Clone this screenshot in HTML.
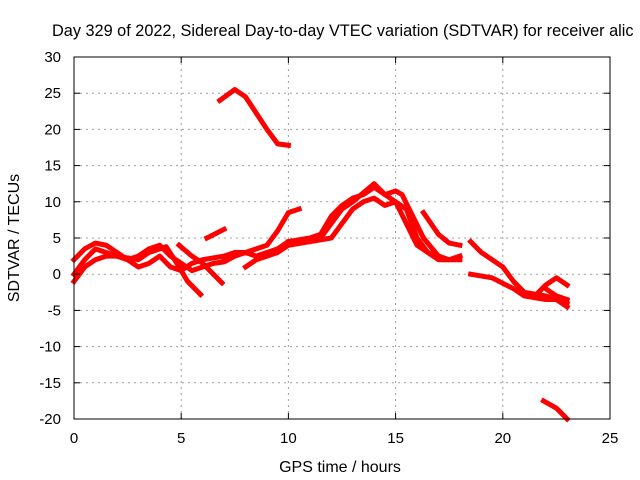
<!DOCTYPE html>
<html><head><meta charset="utf-8"><style>
body{margin:0;background:#fff;}
svg{display:block;font-family:"Liberation Sans",sans-serif;}
</style></head><body>
<svg id="chart" width="640" height="480" viewBox="0 0 640 480">
<rect x="0" y="0" width="640" height="480" fill="#fff"/>
<g id="grid"></g>
<g id="series"></g>
<rect x="74" y="57" width="536" height="362" fill="none" stroke="#000" stroke-width="1"/>
<g id="ticks"></g>
<text x="52" y="36" text-anchor="start" font-size="16.3">Day 329 of 2022, Sidereal Day-to-day VTEC variation (SDTVAR) for receiver alic</text>
<text x="340" y="472" text-anchor="middle" font-size="16">GPS time / hours</text>
<text transform="translate(19,238) rotate(-90)" text-anchor="middle" font-size="16">SDTVAR / TECUs</text>
</svg>
<script>
const xTicks=[0,5,10,15,20,25];
const yTicks=[-20,-15,-10,-5,0,5,10,15,20,25,30];
const trackTop=[[6.8,24],[7.5,25.5],[8,24.5],[9,20],[9.5,18],[10,17.8]];
const trackBottom=[[21.9,-17.5],[22.5,-18.5],[23,-20]];
const trackA=[[0,0],[0.5,2],[1,3.5],[1.5,3],[2,2.5],[3,2],[3.5,3],[4,3.5],[4.3,3.8],[4.8,1.5],[5.3,-1],[5.9,-2.8]];
const trackB=[[0,2],[0.5,3.5],[1,4.3],[1.5,4],[2,3],[2.5,2],[3,2.5],[3.5,3.5],[4,4],[4.5,2.5],[5,1.5],[5.5,0.5],[6,1],[6.5,1.5],[7,1.7],[7.5,2.5]];
const trackC=[[0,-1],[0.5,1],[1,2],[1.5,2.5],[2,2.5],[2.5,2],[3,1],[3.5,1.5],[4,2.5],[4.5,1],[5,0.5],[5.5,1.5],[6,2],[7,2.5],[7.5,3],[8,3],[8.5,3.5],[9,4],[9.5,6],[10,8.5],[10.5,9]];
const trackD=[[4.9,4],[5.5,2.5],[6,1.5],[6.5,0],[6.9,-1.2]];
const trackE=[[6.2,5],[7,6.2]];
const trackF=[[7,2],[8,3],[8.5,2.5],[9,3],[9.5,3.5],[10,4.5],[11,4.5],[12,5],[12.5,7],[13,9],[13.5,10],[14,10.5],[14.5,9.5],[15,10],[15.5,9],[16,5],[16.5,3],[17,2],[18,2]];
const trackG=[[8,1],[8.5,2],[9,2.5],[9.5,3],[10,4],[11,4.5],[11.5,5],[12,7],[12.5,9],[13,10],[14,12.5],[14.5,11],[15,11.5],[15.3,11],[15.8,8],[16.3,5],[17,2.5],[17.5,2],[18,2.5]];
const trackH=[[10,4.5],[11,5],[11.5,5.5],[12,8],[12.5,9.5],[13,10.5],[13.5,11],[14,12],[14.5,11],[15,10],[15.5,7],[16,4],[16.5,3],[17,2.5]];
const trackI=[[16.3,8.5],[17,5.5],[17.5,4.3],[18,4]];
const trackJ=[[18.5,4.5],[19,3],[20,1],[20.5,-1],[21,-2.5],[22,-3],[23,-4]];
const trackK=[[18.5,0],[19.5,-0.5],[20.5,-2],[21,-3],[22,-3.5],[22.5,-3.5],[23,-4.5]];
const trackL=[[21.5,-3],[22,-1.5],[22.5,-0.5],[23,-1.5]];
const trackM=[[22,-2],[22.5,-3],[23,-3.5]];
const tracks=[trackTop,trackBottom,trackA,trackB,trackC,trackD,trackE,trackF,trackG,trackH,trackI,trackJ,trackK,trackL,trackM];

const NS="http://www.w3.org/2000/svg";
const X0=74,X1=610,Y0=419,Y1=57;
const xs=h=>X0+(h-0)/(25-0)*(X1-X0);
const ys=v=>Y0-(v+20)/(30+20)*(Y0-Y1);
const grid=document.getElementById('grid'),ticks=document.getElementById('ticks'),series=document.getElementById('series');
function mk(tag,attrs,parent){const e=document.createElementNS(NS,tag);for(const k in attrs)e.setAttribute(k,attrs[k]);parent.appendChild(e);return e;}
xTicks.forEach(t=>{
  const x=xs(t);
  if(t>0&&t<25){const g=mk('line',{x1:x,x2:x,y1:Y1,y2:Y0,stroke:'#a0a0a0','stroke-dasharray':'2,4'},grid);
  
  }
  const l=mk('line',{x1:x,x2:x,y1:Y0,y2:Y0-6,stroke:'#000'},ticks);
  
  
  const l2=mk('line',{x1:x,x2:x,y1:Y1,y2:Y1+6,stroke:'#000'},ticks);
  
  
  const tx=mk('text',{x:x,y:443,'text-anchor':'middle','font-size':'15'},ticks);tx.textContent=t;
  
  
});
yTicks.forEach(t=>{
  const y=ys(t);
  if(t>-20&&t<30){const g=mk('line',{x1:X0,x2:X1,y1:y,y2:y,stroke:'#a0a0a0','stroke-dasharray':'2,4'},grid);
  
  }
  const l=mk('line',{x1:X0,x2:X0+6,y1:y,y2:y,stroke:'#000'},ticks);
  
  
  const l2=mk('line',{x1:X1,x2:X1-6,y1:y,y2:y,stroke:'#000'},ticks);
  
  
  const tx=mk('text',{x:61,y:y+5,'text-anchor':'end','font-size':'15'},ticks);tx.textContent=t;
  
  
});
tracks.forEach(tr=>{
  const p=mk('polyline',{points:tr.map(d=>xs(d[0])+','+ys(d[1])).join(' '),fill:'none',stroke:'#ff0000','stroke-width':'5','stroke-linejoin':'round','stroke-linecap':'square'},series);
  
  
});
</script>
</body></html>
